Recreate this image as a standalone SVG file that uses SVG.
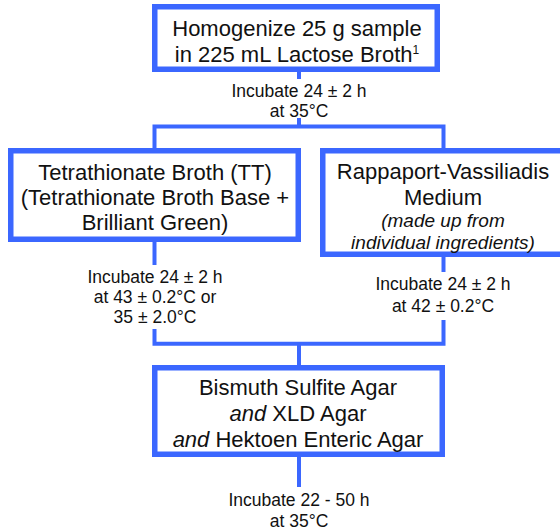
<svg xmlns="http://www.w3.org/2000/svg" width="560" height="532" viewBox="0 0 560 532">
<style>
.box{fill:#fff;stroke:#3b67ff;stroke-width:5.5}
.ln{fill:none;stroke:#3b67ff;stroke-width:4}
text{font-family:"Liberation Sans",Arial,sans-serif;fill:#111;text-anchor:middle}
.t{font-size:22px}
.l{font-size:17.5px}
.i{font-style:italic}
.s{font-size:19px;font-style:italic}
</style>
<rect width="560" height="532" fill="#fff"/>
<g id="connectors">
<polyline class="ln" points="299,72 299,79"/>
<polyline class="ln" points="299,118 299,126.5"/>
<polyline class="ln" points="154.5,149 154.5,126.5 443.5,126.5 443.5,149"/>
<polyline class="ln" points="154.5,242 154.5,265"/>
<polyline class="ln" points="443.5,257 443.5,272"/>
<polyline class="ln" points="154.5,329 154.5,343.7 443.5,343.7 443.5,320"/>
<polyline class="ln" points="299,343.7 299,366"/>
<polyline class="ln" points="299,457 299,487"/>
</g>
<g id="n1">
<rect class="box" x="154.75" y="6.75" width="282.5" height="62.5"/>
<text class="t" x="297" y="36">Homogenize 25 g sample</text>
<text class="t" x="297" y="62">in 225 mL Lactose Broth<tspan font-size="12" dy="-8">1</tspan></text>
</g>
<g id="l1">
<text class="l" x="299" y="97">Incubate 24 ± 2 h</text>
<text class="l" x="299" y="117">at 35°C</text>
</g>
<g id="n2">
<rect class="box" x="10.75" y="150.75" width="287.5" height="88.5"/>
<text class="t" x="155" y="180">Tetrathionate Broth (TT)</text>
<text class="t" x="155" y="205">(Tetrathionate Broth Base +</text>
<text class="t" x="155" y="230">Brilliant Green)</text>
</g>
<g id="l2">
<text class="l" x="155" y="283">Incubate 24 ± 2 h</text>
<text class="l" x="155" y="303">at 43 ± 0.2°C or</text>
<text class="l" x="155" y="323">35 ± 2.0°C</text>
</g>
<g id="n3">
<rect class="box" x="322.75" y="150.75" width="242" height="103.5"/>
<text class="t" x="443" y="179">Rappaport-Vassiliadis</text>
<text class="t" x="443" y="205">Medium</text>
<text class="s" x="443" y="227">(made up from</text>
<text class="s" x="443" y="249">individual ingredients)</text>
</g>
<g id="l3">
<text class="l" x="443" y="290">Incubate 24 ± 2 h</text>
<text class="l" x="443" y="312">at 42 ± 0.2°C</text>
</g>
<g id="n4">
<rect class="box" x="154.75" y="367.75" width="287.5" height="86.5"/>
<text class="t" x="298" y="395">Bismuth Sulfite Agar</text>
<text class="t" x="298" y="421"><tspan class="i">and</tspan> XLD Agar</text>
<text class="t" x="298" y="447"><tspan class="i">and</tspan> Hektoen Enteric Agar</text>
</g>
<g id="l4">
<text class="l" x="299" y="506">Incubate 22 - 50 h</text>
<text class="l" x="299" y="527">at 35°C</text>
</g>
</svg>
